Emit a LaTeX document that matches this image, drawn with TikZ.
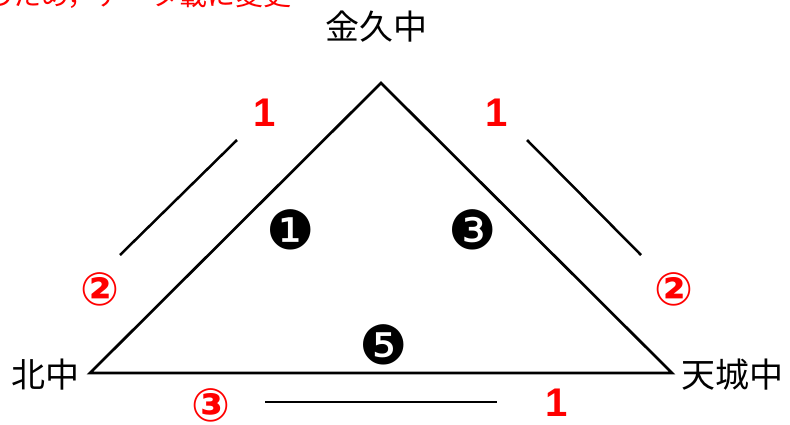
\documentclass[tikz,border=0pt]{standalone}
\usepackage{fontspec}
\setmainfont{Liberation Sans}
\newfontfamily\jp{Noto Sans CJK JP}
\newfontfamily\dv{DejaVu Sans}
\begin{document}
\begin{tikzpicture}[x=1pt,y=-1pt,
  edge/.style={line width=2.7pt,line join=miter},
  par/.style={line width=2.5pt},
  stn/.style={font=\jp\fontsize{34}{34}\selectfont,inner sep=0pt},
  rednum/.style={font=\bfseries\fontsize{40}{40}\selectfont,text=red,inner sep=0pt},
  redcirc/.style={font=\dv\bfseries\fontsize{46}{46}\selectfont,text=red,inner sep=0pt,text height=1.42em,text depth=0pt},
  blkcirc/.style={font=\dv\fontsize{54}{54}\selectfont,inner sep=0pt}]
\useasboundingbox (0,0) rectangle (790,424);
\node[font=\jp\fontsize{28}{28}\selectfont,text=red,anchor=base east,inner sep=0pt] (note) at (292,5) {のため，データ載に変更};
\coordinate (A) at (381,83);
\coordinate (B) at (90,373);
\coordinate (C) at (672,373);
\draw[edge] (A) -- (B) -- (C) -- cycle;
\node[stn] (kin) at (376,27) {金久中};
\node[stn] (kita) at (46,375) {北中};
\node[stn] (ten) at (732,375) {天城中};
\coordinate (l1) at (120,255); \coordinate (l2) at (237,140);
\coordinate (r1) at (527,140); \coordinate (r2) at (641,255);
\coordinate (b1) at (265,402); \coordinate (b2) at (497,402);
\draw[par] (l1) -- (l2);
\draw[par] (r1) -- (r2);
\draw[par] (b1) -- (b2);
\node[rednum] (n1) at (265,113) {1};
\node[rednum] (n2) at (497,113) {1};
\node[rednum] (n3) at (557,403) {1};
\node[redcirc] (c1) at (100,298) {②};
\node[redcirc] (c2) at (674,298) {②};
\node[redcirc] (c3) at (211,414) {③};
\node[blkcirc] (k1) at (291,230) {❶};
\node[blkcirc] (k3) at (473,230) {❸};
\node[blkcirc] (k5) at (384,345) {❺};
\end{tikzpicture}
\end{document}
